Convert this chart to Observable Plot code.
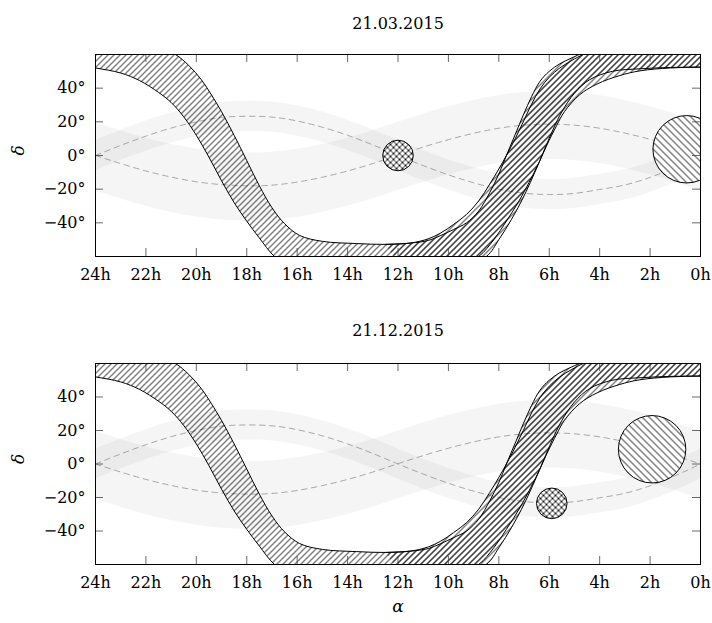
<!DOCTYPE html>
<html><head><meta charset="utf-8">
<script src="https://cdn.jsdelivr.net/npm/d3@7"></script>
<script src="https://cdn.jsdelivr.net/npm/@observablehq/plot@0.6"></script>
<style>
body{margin:0;background:#fff;}
#chart{width:712px;}
#chart svg{display:block;}
</style></head><body>
<svg width="0" height="0" style="position:absolute">
<defs>
<pattern id="ne" patternUnits="userSpaceOnUse" width="6" height="6"><path d="M-1,1 L1,-1 M0,6 L6,0 M5,7 L7,5" stroke="#000" stroke-width="1"/></pattern>
<pattern id="nw" patternUnits="userSpaceOnUse" width="7" height="7"><path d="M-1,6 L1,8 M0,0 L7,7 M6,-1 L8,1" stroke="#000" stroke-width="1"/></pattern>
<pattern id="cross" patternUnits="userSpaceOnUse" width="6" height="6"><path d="M-1,1 L1,-1 M0,6 L6,0 M5,7 L7,5 M-1,5 L1,7 M0,0 L6,6 M5,-1 L7,1" stroke="#000" stroke-width="0.9"/></pattern>
</defs></svg>
<div id="chart"></div>
<script>
// ---- data (alpha in hours, delta in degrees) ----
const dates = ["21.03.2015", "21.12.2015"];
const xTicks = [24, 22, 20, 18, 16, 14, 12, 10, 8, 6, 4, 2, 0];
const yTicks = [-40, -20, 0, 20, 40];

// hatched band, lower and upper boundary
const bandLower = [[25,54.5],[24,52],[23,49],[22.25,44.5],[21.5,37.5],[21,31.5],[20.5,23],[20,12],[19.5,-1],[19,-15],[18.5,-28],[18,-39],[17.5,-49],[16.9,-60],[16,-69],[14.5,-74],[13,-75],[11.5,-74],[10,-69],[8.8,-60],[8.2,-50],[7.7,-39],[7.2,-27],[6.8,-16],[6.4,-4],[6.1,6],[5.7,18],[5.4,26],[4.8,36],[4.1,42.5],[3.2,47.5],[2.4,50.3],[1.2,52],[0,52.5],[-1,52.5]];
const bandUpper = [[25,77],[24,76],[22.5,70],[21.5,64],[20.83,60],[20.3,53.5],[19.8,45],[19.4,36],[19,26],[18.5,12],[18,-3],[17.5,-18],[17,-31],[16.5,-40.5],[15.9,-47.5],[15,-51],[13.65,-52.3],[12.5,-52.8],[11.5,-52],[10.8,-49.5],[10.3,-46],[9.8,-41],[9.28,-35],[8.8,-27],[8.36,-17],[8,-8],[7.7,0],[7.35,10],[7.03,20],[6.7,30.5],[6.37,39.5],[6,46.5],[5.58,52],[5.1,56.5],[4.65,60],[3.5,67],[2,73],[0,76],[-1,76]];
// second (shifted) band on the rising side
const band2Lower = [[11.5,-74],[10,-69],[8.5,-60],[8,-50],[7.5,-38],[7.1,-27],[6.75,-16],[6.4,-4],[6.15,5],[5.8,17],[5.5,26],[5,37],[4.4,45],[3.5,50],[2.4,51.5],[1.2,52.3],[0,52.5],[-1,52.5]];
const band2Upper = [[12.5,-52.8],[11.5,-52],[10.8,-50.5],[10.3,-47.5],[9.8,-44],[9.28,-40],[8.8,-33],[8.36,-22],[8,-11],[7.7,0],[7.35,12.5],[7.03,24],[6.7,35],[6.37,44],[6,50],[5.58,54.5],[5.1,58],[4.65,61],[3.5,67],[2,73],[0,76],[-1,76]];

// dashed paths
const pathA = [[24,0],[23,6],[22,11.5],[21,16.3],[20,20],[19,22.6],[18,23.3],[17,22.8],[16,20.5],[15,16.8],[14,12],[13,6.3],[12,0],[11,-6],[10,-11.5],[9,-16.2],[8,-20],[7,-22.4],[6,-23.2],[5,-22.5],[4,-20.2],[3,-17.5],[2,-13],[1,-7],[0,0]];
const pathB = [[24,0],[23,-4.8],[22,-9.2],[21,-12.8],[20,-15.6],[19,-17.3],[18,-18],[17,-17.6],[16,-15.8],[15,-12.9],[14,-9.2],[13,-4.8],[12,0.2],[11,5],[10,9.4],[9,13.2],[8,16.2],[7,18],[6,18.6],[5,18],[4,16.2],[3,13.3],[2,9.6],[1,5],[0,0]];
// grey band widths around the dashed paths (below, above)
const bandA = [9, 9];
const bandB = [21, 19.5];

// circles per panel
const smallCircle = [[12.0, 0], [5.9, -23.5]];
const bigCircle = [[0.55, 3.7], [1.92, 8.8]];

const layouts = [
  {height: 300, marginTop: 54, marginBottom: 44, titleDy: -37, alpha: false},
  {height: 323, marginTop: 63, marginBottom: 59, titleDy: -39, alpha: true}
];

const fmtY = d => (d < 0 ? "\u2212" : "") + Math.abs(d) + "\u00b0";
const W = 712, ML = 95, MR = 12;
const fw = W - ML - MR;
const TL = 8;

layouts.forEach((L, i) => {
  const fh = L.height - L.marginTop - L.marginBottom;
  const polygon1 = bandLower.concat(bandUpper.slice().reverse());
  const polygon2 = band2Lower.concat(band2Upper.slice().reverse());
  const grey = {fill: "#000", fillOpacity: 0.04, curve: "natural", clip: true};
  const dash = {x: d => d[0], y: d => d[1], stroke: "#9d9d9d", strokeWidth: 0.9, strokeDasharray: "5.5,4.5", curve: "natural", clip: true};
  const marks = [
    Plot.areaY(pathA, {x: d => d[0], y1: d => d[1] - bandA[0], y2: d => d[1] + bandA[1], ...grey}),
    Plot.areaY(pathB, {x: d => d[0], y1: d => d[1] - bandB[0], y2: d => d[1] + bandB[1], ...grey}),
    Plot.line(pathA, dash),
    Plot.line(pathB, dash),
    Plot.line(polygon1, {x: d => d[0], y: d => d[1], fill: "url(#ne)", stroke: "none", curve: "catmull-rom", clip: true}),
    Plot.line(polygon2, {x: d => d[0], y: d => d[1], fill: "url(#ne)", stroke: "none", curve: "catmull-rom", clip: true}),
    ...[bandLower, bandUpper, band2Lower, band2Upper].map(b =>
      Plot.line(b, {x: d => d[0], y: d => d[1], stroke: "#000", strokeWidth: 1, curve: "catmull-rom", clip: true})),
    Plot.dot([smallCircle[i]], {x: d => d[0], y: d => d[1], r: 15.3, fill: "white", stroke: "none", clip: true}),
    Plot.dot([smallCircle[i]], {x: d => d[0], y: d => d[1], r: 15.3, fill: "url(#cross)", stroke: "#000", strokeWidth: 1, clip: true}),
    Plot.dot([bigCircle[i]], {x: d => d[0], y: d => d[1], r: 33.7, fill: "white", stroke: "none", clip: true}),
    Plot.dot([bigCircle[i]], {x: d => d[0], y: d => d[1], r: 33.7, fill: "url(#nw)", stroke: "#000", strokeWidth: 1, clip: true}),
    // inward ticks
    Plot.ruleX(xTicks, {x: d => d, insetTop: fh - TL, stroke: "#444", strokeWidth: 0.8}),
    Plot.ruleX(xTicks, {x: d => d, insetBottom: fh - TL, stroke: "#444", strokeWidth: 0.8}),
    Plot.ruleY(yTicks, {y: d => d, insetRight: fw - TL, stroke: "#444", strokeWidth: 0.8}),
    Plot.ruleY(yTicks, {y: d => d, insetLeft: fw - TL, stroke: "#444", strokeWidth: 0.8}),
    Plot.frame({stroke: "#000", strokeWidth: 1}),
    Plot.axisX({ticks: xTicks, tickFormat: d => d + "h", tickSize: 0, tickPadding: 12, label: null}),
    Plot.axisY({ticks: yTicks, tickFormat: fmtY, tickSize: 0, tickPadding: 10, label: null}),
    Plot.text([dates[i]], {text: d => d, frameAnchor: "top", dy: L.titleDy, fontSize: 16}),
    Plot.text(["\u03b4"], {text: d => d, frameAnchor: "left", dx: -77, rotate: -90, fontStyle: "italic", fontSize: 17})
  ];
  if (L.alpha) marks.push(Plot.text(["\u03b1"], {text: d => d, frameAnchor: "bottom", dy: 47, fontStyle: "italic", fontSize: 17}));
  const svg = Plot.plot({
    width: W, height: L.height,
    marginLeft: ML, marginRight: MR, marginTop: L.marginTop, marginBottom: L.marginBottom,
    x: {domain: [24, 0]},
    y: {domain: [-60, 60]},
    style: {fontFamily: "'DejaVu Serif', serif", fontSize: "16px", color: "#000", background: "#fff"},
    marks
  });
  document.getElementById("chart").appendChild(svg);
});
</script>
</body></html>
